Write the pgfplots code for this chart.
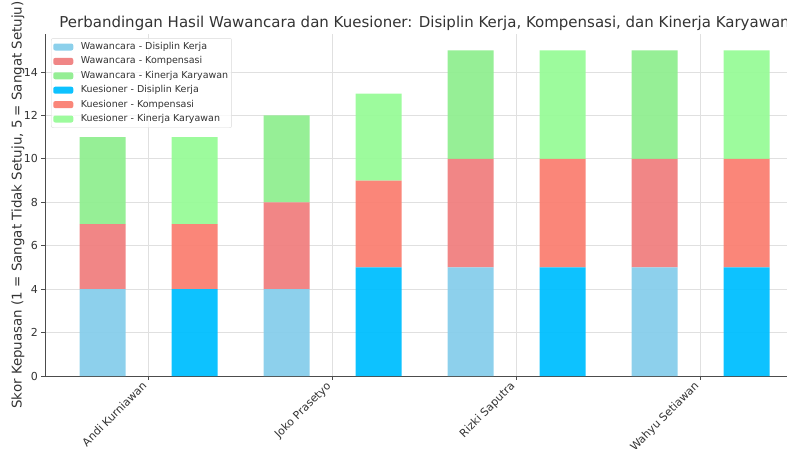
\documentclass[border=0pt]{standalone}
\usepackage{pgfplots}
\pgfplotsset{compat=1.18}
\usepackage{fontspec}
\setmainfont{DejaVu Sans}
\definecolor{wdis}{HTML}{87CEEB}
\definecolor{wkomp}{HTML}{F08080}
\definecolor{wkin}{HTML}{90EE90}
\definecolor{kdis}{HTML}{00BFFF}
\definecolor{kkomp}{HTML}{FA8072}
\definecolor{kkin}{HTML}{98FB98}
\definecolor{txt}{HTML}{333333}
\begin{document}
\begin{tikzpicture}[x=1pt,y=1pt]
\useasboundingbox (0,0) rectangle (787,448);
\begin{axis}[
  at={(45pt,72pt)}, anchor=south west,
  scale only axis, width=759pt, height=342pt,
  xmin=-0.5625, xmax=3.5625, ymin=0, ymax=15.75,
  axis x line*=bottom, axis y line*=left,
  axis line style={black!70, line width=0.8pt},
  ybar stacked, bar width=0.25,
  xtick={0,1,2,3},
  xticklabels={Andi Kurniawan, Joko Prasetyo, Rizki Saputra, Wahyu Setiawan},
  ytick={0,2,4,6,8,10,12,14},
  /pgf/number format/assume math mode=true,
  tick align=outside, major tick length=3.5pt,
  tick style={black!70, line width=0.8pt},
  xmajorgrids, ymajorgrids,
  major grid style={black!12, line width=0.8pt},
  yticklabel style={font=\fontsize{11}{13}\selectfont, text=txt},
  xticklabel style={font=\fontsize{11}{13}\selectfont, text=txt, xshift=-7pt, yshift=-1pt, rotate=45, anchor=north east, inner sep=0pt},
  title={Perbandingan Hasil Wawancara dan Kuesioner: Disiplin Kerja, Kompensasi, dan Kinerja Karyawan},
  title style={at={(axis description cs:0.5,1)}, anchor=south, yshift=-6pt, font=\fontsize{15}{17}\selectfont, text=txt},
  ylabel={Skor Kepuasan (1 = Sangat Tidak Setuju, 5 = Sangat Setuju)},
  every axis y label/.style={at={(axis description cs:-0.0356,0.5)}, rotate=90, anchor=center, font=\fontsize{13.4}{15}\selectfont, text=txt},
  legend image code/.code={\fill[#1] (0pt,-3.5pt) rectangle (20pt,3.5pt);},
  legend style={at={(axis description cs:0.008,0.988)}, anchor=north west,
    draw=black!15, rounded corners=2pt, fill=white, fill opacity=0.8, text opacity=1,
    font=\fontsize{9.5}{11}\selectfont, text=txt, inner xsep=2pt, inner ysep=1.5pt,
    nodes={inner xsep=1.5pt, inner ysep=2.5pt, text height=7.2pt, text depth=2.2pt},
    /tikz/every odd column/.append style={column sep=6pt}},
  legend cell align=left,
]
\addplot[fill=wdis, draw=none, fill opacity=0.95] coordinates {(-0.25,4) (0.25,0) (0.75,4) (1.25,0) (1.75,5) (2.25,0) (2.75,5) (3.25,0)};
\addplot[fill=wkomp, draw=none, fill opacity=0.95] coordinates {(-0.25,3) (0.25,0) (0.75,4) (1.25,0) (1.75,5) (2.25,0) (2.75,5) (3.25,0)};
\addplot[fill=wkin, draw=none, fill opacity=0.95] coordinates {(-0.25,4) (0.25,0) (0.75,4) (1.25,0) (1.75,5) (2.25,0) (2.75,5) (3.25,0)};
\addplot[fill=kdis, draw=none, fill opacity=0.95] coordinates {(-0.25,0) (0.25,4) (0.75,0) (1.25,5) (1.75,0) (2.25,5) (2.75,0) (3.25,5)};
\addplot[fill=kkomp, draw=none, fill opacity=0.95] coordinates {(-0.25,0) (0.25,3) (0.75,0) (1.25,4) (1.75,0) (2.25,5) (2.75,0) (3.25,5)};
\addplot[fill=kkin, draw=none, fill opacity=0.95] coordinates {(-0.25,0) (0.25,4) (0.75,0) (1.25,4) (1.75,0) (2.25,5) (2.75,0) (3.25,5)};
\legend{Wawancara - Disiplin Kerja, Wawancara - Kompensasi, Wawancara - Kinerja Karyawan, Kuesioner - Disiplin Kerja, Kuesioner - Kompensasi, Kuesioner - Kinerja Karyawan}
\end{axis}
\end{tikzpicture}
\end{document}
